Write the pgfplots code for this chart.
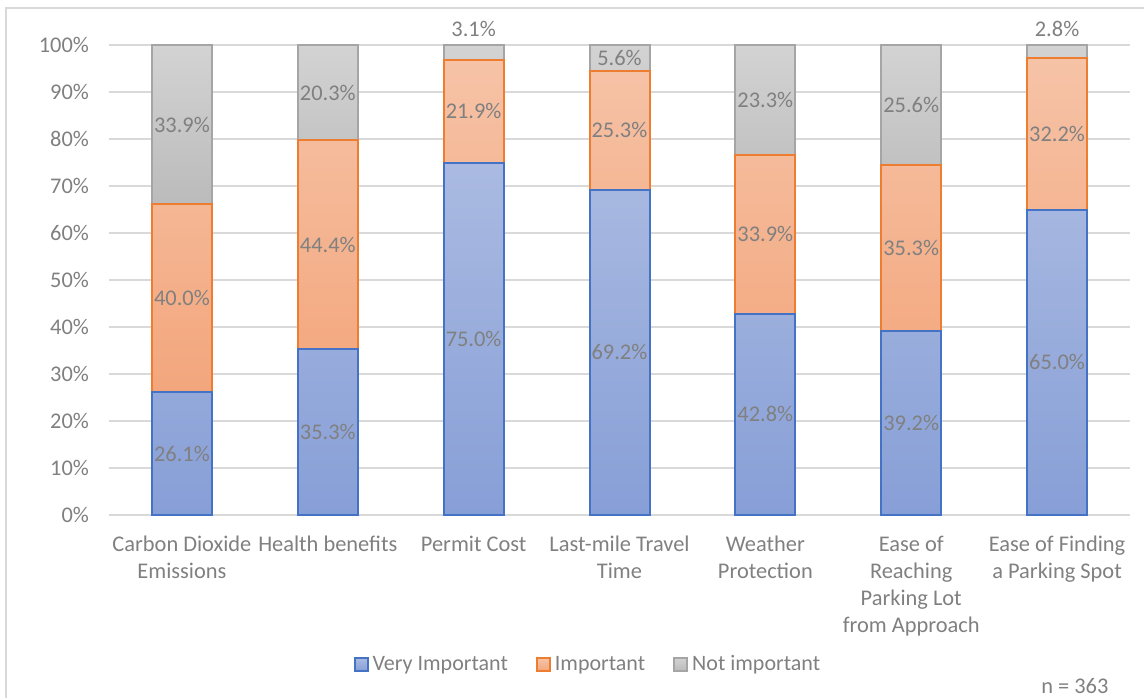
\documentclass[border=0pt]{standalone}
\usepackage{pgfplots}
\pgfplotsset{compat=1.18}
\usepackage{pgfplotstable}
\usepackage{fontspec}
\setmainfont{Carlito}

\definecolor{txt}{HTML}{808080}
\definecolor{gridc}{HTML}{D9D9D9}
\definecolor{viL}{HTML}{AABAE1}
\definecolor{viD}{HTML}{879FD7}
\definecolor{viB}{HTML}{4472C4}
\definecolor{imL}{HTML}{F6C3A7}
\definecolor{imD}{HTML}{F3A67C}
\definecolor{imB}{HTML}{ED7D31}
\definecolor{niL}{HTML}{D3D3D3}
\definecolor{niD}{HTML}{BBBBBB}
\definecolor{niB}{HTML}{A5A5A5}

% shares per factor (percent); nish = extra label lift for thin top segments, in %
\pgfplotstableread{
x vi   im   ni   nish
0 26.1 40.0 33.9 0
1 35.3 44.4 20.3 0
2 75.0 21.9 3.1  5.05
3 69.2 25.3 5.6  0
4 42.8 33.9 23.3 0
5 39.2 35.3 25.6 0
6 65.0 32.2 2.8  4.8
}\ratings

\newcommand{\pct}{\pgfmathprintnumber[fixed,fixed zerofill,precision=1]{\pgfplotspointmeta}\%}

\begin{document}
\begin{tikzpicture}[font=\fontsize{11.2}{13.5}\selectfont]
\useasboundingbox (-54.5pt,-91.5pt) rectangle (517.5pt,257.5pt);
\draw[gridc, line width=1pt] (-51.5pt,-91.5pt) -- (-51.5pt,253.5pt) -- (517.5pt,253.5pt);
\begin{axis}[
  at={(0pt,0pt)}, anchor=south west,
  scale only axis, width=510.5pt, height=235pt,
  ybar stacked, bar width=30pt,
  xmin=-0.5, xmax=6.5, ymin=0, ymax=100,
  clip=false,
  axis line style={draw=none},
  tick style={draw=none},
  ymajorgrids, grid style={gridc, line width=0.8pt},
  /pgf/number format/assume math mode=true,
  ytick={0,10,...,100},
  yticklabel={\pgfmathprintnumber{\tick}\%},
  yticklabel style={text=txt, xshift=-6.5pt},
  xtick={0,...,6},
  xticklabels={Carbon Dioxide\\Emissions, Health benefits, Permit Cost,
    Last-mile Travel\\Time, Weather\\Protection,
    Ease of\\Reaching\\Parking Lot\\from Approach, Ease of Finding\\a Parking Spot},
  xticklabel style={align=center, text=txt, yshift=-7pt, font=\fontsize{11.2}{13.5}\selectfont},
  legend columns=3,
  legend style={at={(0.470,-0.318)}, anchor=center, draw=none, fill=none,
    nodes={text=txt, font=\fontsize{11}{12}\selectfont},
    /tikz/every even column/.append style={column sep=12pt}},
  legend image code/.code={\draw[#1] (0pt,-3.25pt) rectangle (6.5pt,3.25pt);},
  every node near coord/.append style={anchor=center, text=txt},
]
\addplot[draw=viB, line width=1pt, top color=viL, bottom color=viD,
  point meta=\thisrow{vi}, nodes near coords={\pct}]
  table[x=x, y=vi]{\ratings};
\addplot[draw=imB, line width=1pt, top color=imL, bottom color=imD,
  point meta=\thisrow{im}, nodes near coords={\pct}]
  table[x=x, y=im]{\ratings};
\addplot[draw=niB, line width=1pt, top color=niL, bottom color=niD,
  point meta=\thisrow{ni}, nodes near coords={\pct},
  visualization depends on={\thisrow{nish} \as \sh},
  every node near coord/.append style={yshift=2.35pt*\sh}]
  table[x=x, y=ni]{\ratings};
\legend{Very Important, Important, Not important}
\node[text=txt] at (rel axis cs:0.946,-0.364) {n = 363};
\end{axis}
\end{tikzpicture}
\end{document}
